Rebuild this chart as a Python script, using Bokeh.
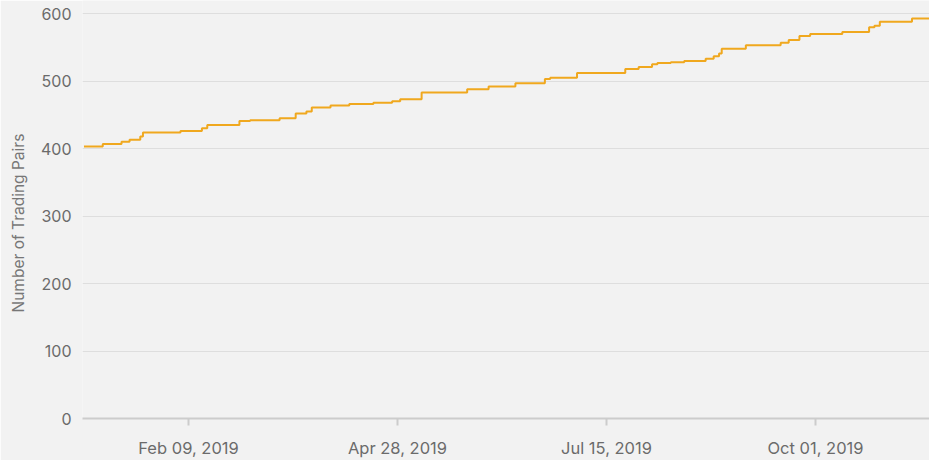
from datetime import datetime
import pandas as pd
from bokeh.plotting import figure
from bokeh.models import Range1d, FixedTicker, DatetimeTickFormatter, Title
from bokeh.embed import file_html
from bokeh.resources import INLINE

# Step-change dates and number of trading pairs
change_dates = [
    "2019-01-01", "2019-01-08", "2019-01-15", "2019-01-18", "2019-01-22", "2019-01-23",
    "2019-02-06", "2019-02-14", "2019-02-16", "2019-02-28", "2019-03-04", "2019-03-15",
    "2019-03-21", "2019-03-25", "2019-03-27", "2019-04-03", "2019-04-10", "2019-04-19",
    "2019-04-26", "2019-04-29", "2019-05-07", "2019-05-24", "2019-06-01", "2019-06-11",
    "2019-06-22", "2019-06-24", "2019-07-04", "2019-07-22", "2019-07-27", "2019-08-01",
    "2019-08-03", "2019-08-08", "2019-08-13", "2019-08-21", "2019-08-24", "2019-08-26",
    "2019-08-27", "2019-09-05", "2019-09-18", "2019-09-21", "2019-09-25", "2019-09-29",
    "2019-10-11", "2019-10-21", "2019-10-23", "2019-10-25", "2019-11-06", "2019-11-14",
]
pairs = [
    403, 407, 410, 413, 418, 424,
    426, 430, 435, 441, 442, 445,
    452, 455, 461, 464, 466, 468,
    470, 473, 483, 488, 492, 497,
    503, 505, 512, 518, 521, 525,
    527, 528, 530, 533, 537, 541,
    548, 553, 557, 561, 567, 570,
    573, 580, 582, 588, 593, 593,
]

tick_dates = ["2019-02-09", "2019-04-28", "2019-07-15", "2019-10-01"]
y_ticks = [0, 100, 200, 300, 400, 500, 600]
y_title = "Number of Trading Pairs"

x_start = datetime(2018, 12, 31, 10, 30)
x_end = datetime(2019, 11, 12, 13, 0)

dates = pd.to_datetime(change_dates)
tick_ms = [pd.Timestamp(d).value / 1e6 for d in tick_dates]

BG = "#f2f2f2"
TEXT = "#6b6b6b"

p = figure(
    width=929, height=460,
    x_axis_type="datetime",
    x_range=Range1d(x_start, x_end),
    y_range=Range1d(0, 619.5),
    output_backend="svg", toolbar_location=None,
    background_fill_color=BG, border_fill_color=BG,
    min_border_left=82, min_border_right=0, min_border_top=0, min_border_bottom=42,
)
p.outline_line_color = None

p.step(dates, pairs, mode="after", line_color="#f0a81e", line_width=2)

# x axis
p.xaxis.ticker = FixedTicker(ticks=tick_ms)
fmt = "%b %d, %Y"
p.xaxis.formatter = DatetimeTickFormatter(
    milliseconds=fmt, seconds=fmt, minsec=fmt, minutes=fmt, hourmin=fmt,
    hours=fmt, days=fmt, months=fmt, years=fmt)
p.xaxis.axis_line_color = "#cccccc"
p.xaxis.axis_line_width = 2
p.xaxis.major_tick_line_color = "#cccccc"
p.xaxis.major_tick_line_width = 2
p.xaxis.major_tick_out = 7
p.xaxis.major_tick_in = 0
p.xaxis.minor_tick_line_color = None
p.xaxis.major_label_text_color = TEXT
p.xaxis.major_label_text_font = "Inter"
p.xaxis.major_label_text_font_size = "16.5px"
p.xaxis.major_label_standoff = 12

# y axis
p.yaxis.ticker = FixedTicker(ticks=y_ticks)
p.yaxis.axis_line_color = None
p.yaxis.major_tick_line_color = None
p.yaxis.minor_tick_line_color = None
p.yaxis.major_label_text_color = TEXT
p.yaxis.major_label_text_font = "Inter"
p.yaxis.major_label_text_font_size = "16px"
p.yaxis.major_label_standoff = 5

# y-axis title as a side title in the left panel
p.add_layout(Title(
    text=y_title, align="left", offset=106, standoff=15, vertical_align="top",
    text_font="Inter", text_font_size="15.5px", text_font_style="normal",
    text_color="#777777",
), "left")

p.xgrid.grid_line_color = None
p.ygrid.grid_line_color = "#dedede"
p.ygrid.grid_line_width = 1

open("out.html", "w").write(file_html(p, INLINE))
